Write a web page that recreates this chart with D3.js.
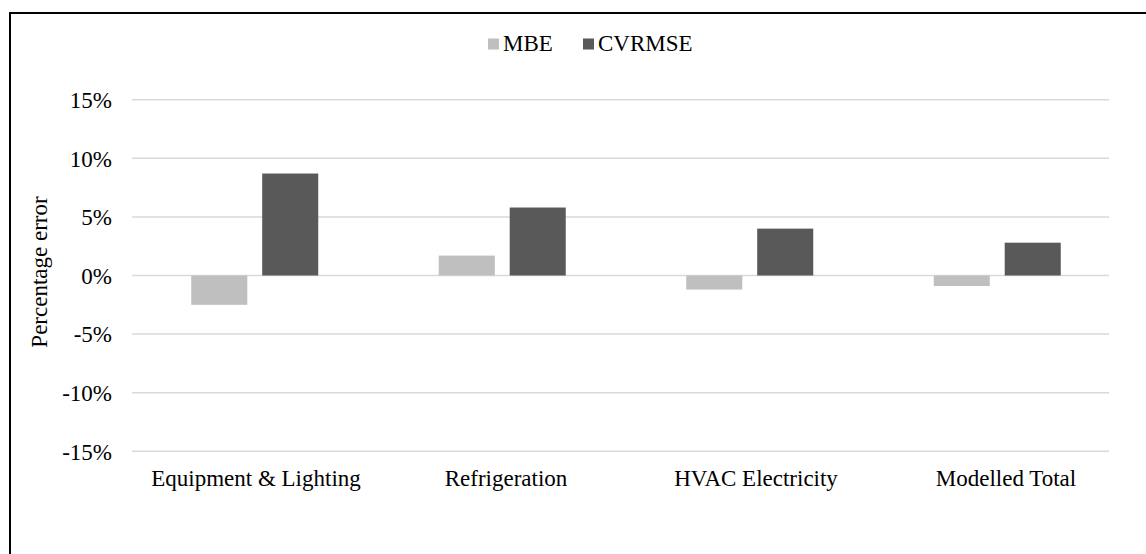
<!DOCTYPE html>
<html>
<head>
<meta charset="utf-8">
<script src="https://cdn.jsdelivr.net/npm/d3@7"></script>
<style>
  html, body { margin: 0; padding: 0; background: #fff; }
  svg { display: block; }
  svg text { font-family: "Liberation Serif", "Times New Roman", Times, "DejaVu Serif", serif !important; fill: #000; }
</style>
</head>
<body>
<svg id="chart" width="1146" height="554"></svg>
<script>
const categories = ["Equipment & Lighting", "Refrigeration", "HVAC Electricity", "Modelled Total"];
const seriesNames = ["MBE", "CVRMSE"];
const mbeValues = [-2.5, 1.7, -1.2, -0.9];
const cvrmseValues = [8.7, 5.8, 4.0, 2.8];
const yTicks = [-15, -10, -5, 0, 5, 10, 15];
const colors = ["#BFBFBF", "#595959"];

const rows = categories.map((c, i) => ({ category: c, MBE: mbeValues[i], CVRMSE: cvrmseValues[i] }));

const svg = d3.select("#chart");
const W = 1146, H = 554;
const fontSize = 23;
const FONT = "'Liberation Serif', 'Times New Roman', Times, 'DejaVu Serif', serif";

// chart border
svg.append("rect")
  .attr("x", 10).attr("y", 13)
  .attr("width", W + 20).attr("height", H + 20)
  .attr("fill", "none").attr("stroke", "#000").attr("stroke-width", 2);

const plotLeft = 132, plotRight = 1109;
const y = d3.scaleLinear().domain([-15, 15]).range([451.3, 99.7]);
const x0 = d3.scaleBand().domain(categories).range([131, 1121]).padding(0);
const groupWidth = 127;
const x1 = d3.scaleBand().domain(seriesNames).range([0, groupWidth]).paddingInner(0.21).paddingOuter(0);

// gridlines
svg.append("g").selectAll("line").data(yTicks).join("line")
  .attr("x1", plotLeft).attr("x2", plotRight)
  .attr("y1", d => y(d)).attr("y2", d => y(d))
  .attr("stroke", "#D9D9D9").attr("stroke-width", 1.5);

// y axis labels via d3 axis
const yAxis = d3.axisLeft(y).tickValues(yTicks).tickSize(0).tickPadding(0)
  .tickFormat(d => d + "%");
const yg = svg.append("g").attr("transform", `translate(112,0)`).call(yAxis)
  .attr("font-family", FONT).attr("font-size", fontSize);
yg.select(".domain").remove();
yg.selectAll("text").attr("fill", "#000").attr("dy", "0.34em");

// bars
const groups = svg.append("g").selectAll("g").data(rows).join("g")
  .attr("transform", d => `translate(${x0(d.category) + (x0.bandwidth() - groupWidth) / 2},0)`);
groups.selectAll("rect")
  .data(d => seriesNames.map((s, i) => ({ key: s, value: d[s], color: colors[i] })))
  .join("rect")
  .attr("x", d => x1(d.key))
  .attr("width", x1.bandwidth())
  .attr("y", d => Math.min(y(0), y(d.value)))
  .attr("height", d => Math.abs(y(d.value) - y(0)))
  .attr("fill", d => d.color);

// x axis labels
const xAxis = d3.axisBottom(d3.scaleBand().domain(categories).range([131, 1131])).tickSize(0).tickPadding(0);
const xg = svg.append("g").attr("transform", `translate(0,486)`).call(xAxis)
  .attr("font-family", FONT).attr("font-size", fontSize);
xg.select(".domain").remove();
xg.selectAll("text").attr("fill", "#000").attr("dy", 0).attr("y", 0);

// y axis title
svg.append("text")
  .attr("transform", "translate(47,272) rotate(-90)")
  .attr("text-anchor", "middle")
  .attr("font-family", FONT)
  .attr("font-size", fontSize)
  .text("Percentage error");

// legend
const legendItems = [{ name: "MBE", x: 488 }, { name: "CVRMSE", x: 583 }];
const lg = svg.append("g").selectAll("g").data(legendItems).join("g")
  .attr("transform", d => `translate(${d.x},0)`);
lg.append("rect").attr("x", 0).attr("y", 38.5).attr("width", 11).attr("height", 11)
  .attr("fill", (d, i) => colors[i]);
lg.append("text").attr("x", 15).attr("y", 50.5).attr("font-family", FONT)
  .attr("font-size", fontSize).text(d => d.name);
</script>
</body>
</html>
